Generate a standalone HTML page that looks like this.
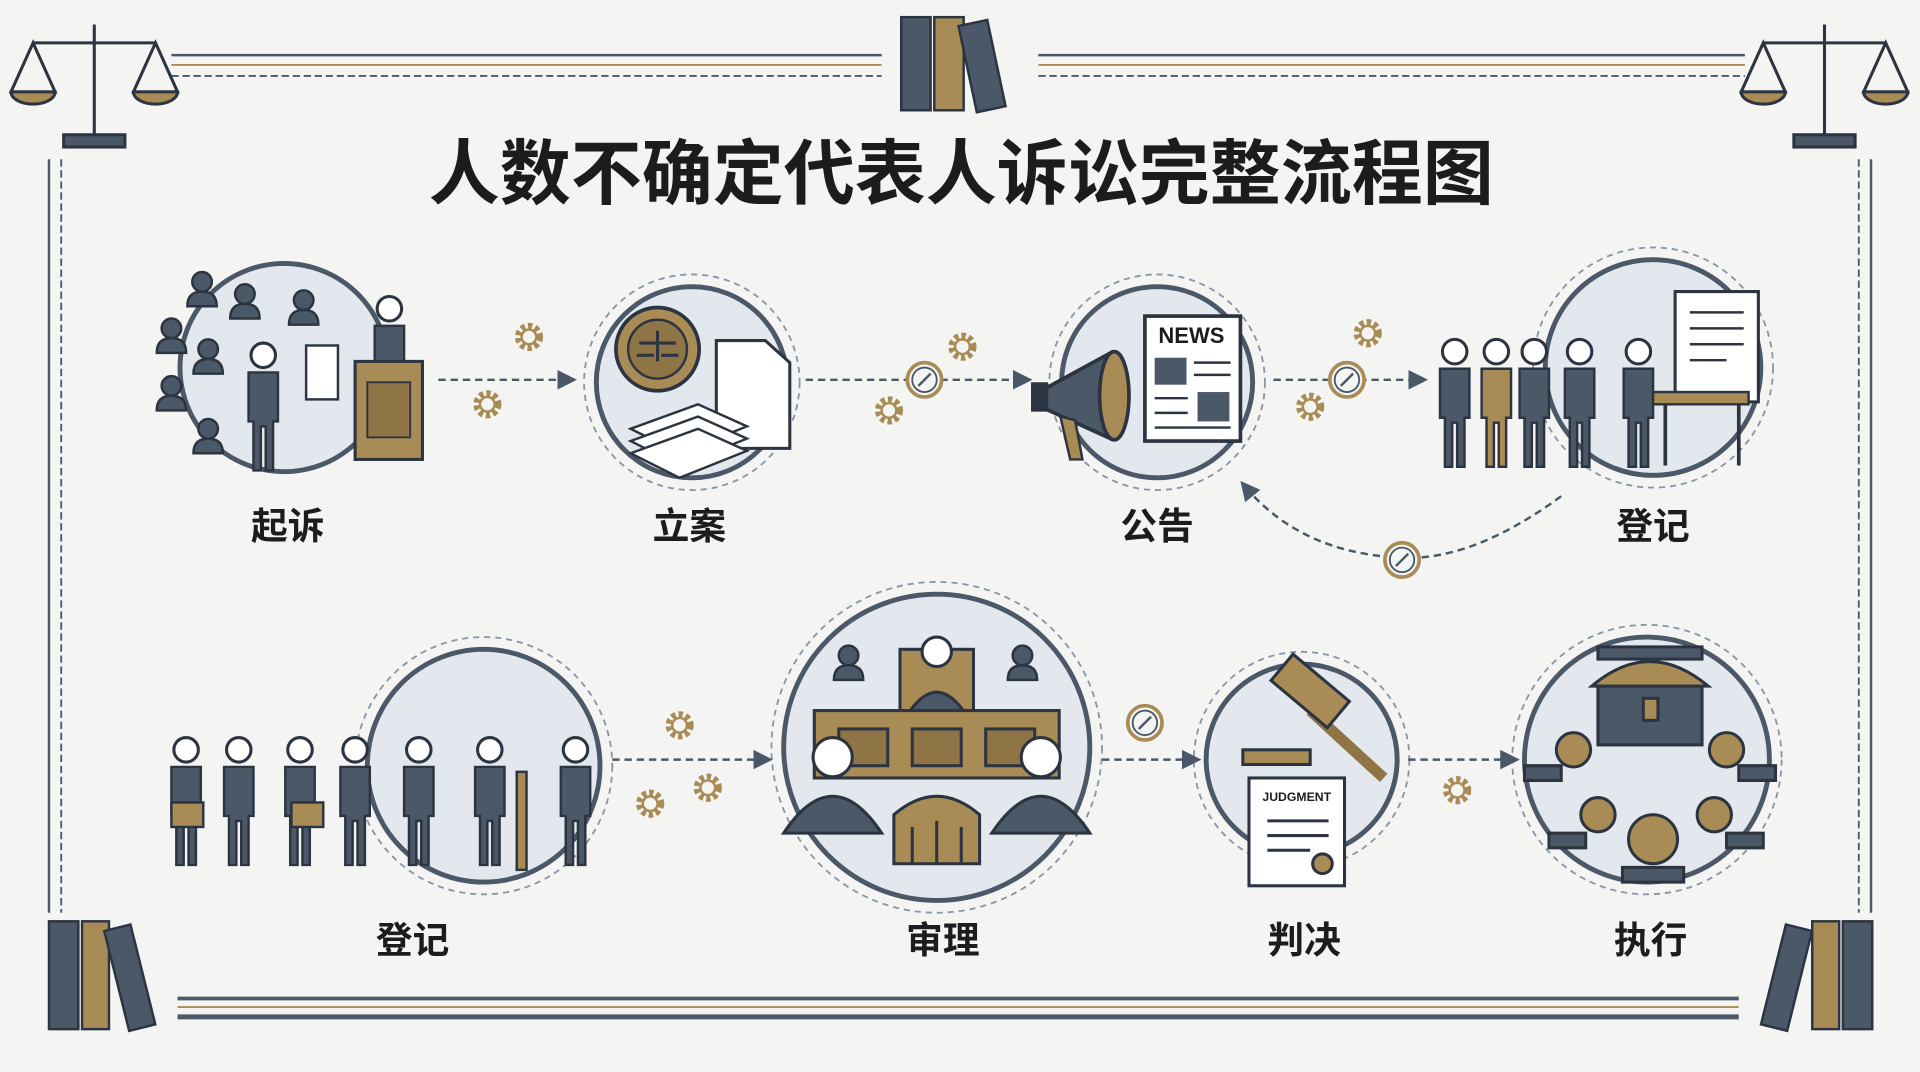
<!DOCTYPE html>
<html><head><meta charset="utf-8"><style>
html,body{margin:0;padding:0;background:#f4f4f3;}
svg{display:block;}
text{font-family:"Liberation Sans","Noto Sans CJK SC",sans-serif;font-weight:700;fill:#1c1c1c;}
</style></head><body>
<svg width="1920" height="1072" viewBox="0 0 1568 875" preserveAspectRatio="none" xmlns="http://www.w3.org/2000/svg">
<defs>
<marker id="ar" viewBox="0 0 10 10" refX="8" refY="5" markerWidth="8" markerHeight="8" orient="auto"><path d="M0,0 L10,5 L0,10z" fill="#4a5868"/></marker>
<g id="gear"><circle r="9" fill="none" stroke="#a98c55" stroke-width="5" stroke-dasharray="3.5 2.4"/><circle r="6" fill="#f4f4f3" stroke="#a98c55" stroke-width="2"/></g>
<g id="comp"><circle r="14" fill="#f4f4f3" stroke="#a98c55" stroke-width="3"/><circle r="10" fill="none" stroke="#4a5868" stroke-width="1.5"/><path d="M-5,5 L5,-5" stroke="#4a5868" stroke-width="2"/></g>
<g id="p"><circle cx="0" cy="-48" r="10" fill="#fff" stroke="#2b3440" stroke-width="2.5"/><path d="M-12,-34 h24 v40 h-4 v40 h-6 v-36 h-4 v36 h-6 v-40 h-4z" fill="#4a5868" stroke="#2b3440" stroke-width="2"/></g>
<g id="pg"><circle cx="0" cy="-48" r="10" fill="#fff" stroke="#2b3440" stroke-width="2.5"/><path d="M-12,-34 h24 v40 h-4 v40 h-6 v-36 h-4 v36 h-6 v-40 h-4z" fill="#a98c55" stroke="#2b3440" stroke-width="2"/></g>
<g id="sm"><circle cx="0" cy="-10" r="8" fill="#4a5868" stroke="#2b3440" stroke-width="2"/><path d="M-12,10 q0,-12 12,-12 q12,0 12,12z" fill="#4a5868" stroke="#2b3440" stroke-width="2"/></g>
</defs>
<rect width="1568" height="875" fill="#f4f4f3"/>
<!-- borders -->
<g stroke="#4a5868" fill="none">
<line x1="140" y1="45" x2="720" y2="45" stroke-width="2"/><line x1="140" y1="62" x2="720" y2="62" stroke-width="1.5" stroke-dasharray="6 3"/>
<line x1="848" y1="45" x2="1425" y2="45" stroke-width="2"/><line x1="848" y1="62" x2="1425" y2="62" stroke-width="1.5" stroke-dasharray="6 3"/>
<line x1="145" y1="815" x2="1420" y2="815" stroke-width="3"/><line x1="145" y1="830" x2="1420" y2="830" stroke-width="4"/>
<line x1="40" y1="130" x2="40" y2="745" stroke-width="2"/><line x1="50" y1="130" x2="50" y2="745" stroke-width="1.5" stroke-dasharray="6 3"/>
<line x1="1518" y1="130" x2="1518" y2="745" stroke-width="1.5" stroke-dasharray="6 3"/><line x1="1528" y1="130" x2="1528" y2="745" stroke-width="2"/>
</g>
<g stroke="#a98c55" stroke-width="1.5"><line x1="140" y1="53" x2="720" y2="53"/><line x1="848" y1="53" x2="1425" y2="53"/><line x1="145" y1="822" x2="1420" y2="822"/></g>
<!-- books -->
<g stroke="#2b3440" stroke-width="2">
<rect x="736" y="14" width="24" height="76" fill="#4a5868"/><rect x="763" y="14" width="24" height="76" fill="#a98c55"/><rect x="790" y="18" width="24" height="72" fill="#4a5868" transform="rotate(-12 802 54)"/>
<rect x="40" y="752" width="24" height="88" fill="#4a5868"/><rect x="67" y="752" width="22" height="88" fill="#a98c55"/><rect x="95" y="756" width="22" height="84" fill="#4a5868" transform="rotate(-14 106 798)"/>
<rect x="1505" y="752" width="24" height="88" fill="#4a5868"/><rect x="1480" y="752" width="22" height="88" fill="#a98c55"/><rect x="1448" y="756" width="22" height="84" fill="#4a5868" transform="rotate(14 1459 798)"/>
</g>
<!-- scales -->
<g fill="none" stroke="#2b3440" stroke-width="2.5">
<g transform="translate(77,70)"><line x1="0" y1="-50" x2="0" y2="40"/><line x1="-50" y1="-35" x2="50" y2="-35"/><path d="M-50,-35 l-18,40 h36z M50,-35 l-18,40 h36z"/><path d="M-68,5 a18,10 0 0 0 36,0z M32,5 a18,10 0 0 0 36,0z" fill="#a98c55"/><rect x="-25" y="40" width="50" height="10" fill="#4a5868"/></g>
<g transform="translate(1490,70)"><line x1="0" y1="-50" x2="0" y2="40"/><line x1="-50" y1="-35" x2="50" y2="-35"/><path d="M-50,-35 l-18,40 h36z M50,-35 l-18,40 h36z"/><path d="M-68,5 a18,10 0 0 0 36,0z M32,5 a18,10 0 0 0 36,0z" fill="#a98c55"/><rect x="-25" y="40" width="50" height="10" fill="#4a5868"/></g>
</g>
<text x="785" y="162" font-size="58" text-anchor="middle">人数不确定代表人诉讼完整流程图</text>
<!-- circles -->
<g fill="#e3e8ee" stroke="#4a5868" stroke-width="4">
<circle cx="232" cy="300" r="85"/><circle cx="565" cy="312" r="78"/><circle cx="945" cy="312" r="78"/><circle cx="1350" cy="300" r="88"/>
<circle cx="395" cy="625" r="95"/><circle cx="765" cy="610" r="125"/><circle cx="1063" cy="620" r="78"/><circle cx="1345" cy="620" r="100"/>
</g>
<g fill="none" stroke="#8896a6" stroke-width="1.5" stroke-dasharray="5 4">
<circle cx="565" cy="312" r="88"/><circle cx="945" cy="312" r="88"/><circle cx="1350" cy="300" r="98"/><circle cx="395" cy="625" r="105"/><circle cx="765" cy="610" r="135"/><circle cx="1063" cy="620" r="88"/><circle cx="1345" cy="620" r="110"/>
</g>
<!-- 起诉 -->
<use href="#sm" x="165" y="240"/><use href="#sm" x="200" y="250"/><use href="#sm" x="248" y="255"/><use href="#sm" x="140" y="278"/><use href="#sm" x="170" y="295"/><use href="#sm" x="140" y="325"/><use href="#sm" x="170" y="360"/>
<use href="#p" x="215" y="338"/><rect x="250" y="282" width="26" height="44" fill="#fff" stroke="#2b3440" stroke-width="2"/>
<use href="#p" x="318" y="300"/><rect x="290" y="295" width="55" height="80" fill="#a98c55" stroke="#2b3440" stroke-width="2.5"/><rect x="300" y="312" width="35" height="45" fill="#8f7545" stroke="#2b3440" stroke-width="1.5"/>
<!-- 立案 -->
<circle cx="537" cy="285" r="34" fill="#a98c55" stroke="#2b3440" stroke-width="3"/><circle cx="537" cy="285" r="24" fill="#8f7545" stroke="#2b3440" stroke-width="2"/>
<path d="M522,280 h30 M537,270 v25 M520,290 h14 M540,290 h14" stroke="#2b3440" stroke-width="2.5"/>
<path d="M585,278 h40 l20,18 v70 h-60z" fill="#fff" stroke="#2b3440" stroke-width="2.5"/>
<g fill="#fff" stroke="#2b3440" stroke-width="2"><path d="M515,350 l55,-20 l40,18 l-55,22z"/><path d="M515,360 l55,-20 l40,18 l-55,22z"/><path d="M515,370 l55,-20 l40,18 l-55,22z"/></g>
<!-- 公告 -->
<rect x="935" y="258" width="78" height="102" fill="#fff" stroke="#2b3440" stroke-width="3"/>
<text x="973" y="280" font-size="18" text-anchor="middle" fill="#2b3440">NEWS</text>
<rect x="943" y="292" width="26" height="22" fill="#4a5868"/><rect x="978" y="320" width="26" height="24" fill="#4a5868"/>
<g stroke="#2b3440" stroke-width="2"><line x1="975" y1="296" x2="1005" y2="296"/><line x1="975" y1="306" x2="1005" y2="306"/><line x1="943" y1="325" x2="970" y2="325"/><line x1="943" y1="337" x2="970" y2="337"/><line x1="943" y1="349" x2="1005" y2="349"/></g>
<path d="M852,318 l55,-30 v70 l-55,-25z" fill="#4a5868" stroke="#2b3440" stroke-width="3"/><ellipse cx="910" cy="323" rx="12" ry="36" fill="#a98c55" stroke="#2b3440" stroke-width="3"/><rect x="842" y="312" width="14" height="24" fill="#2b3440"/><path d="M866,340 l8,35 h10 l-6,-32z" fill="#a98c55" stroke="#2b3440" stroke-width="2"/>
<!-- 登记 top -->
<use href="#p" x="1188" y="335"/><use href="#pg" x="1222" y="335"/><use href="#p" x="1253" y="335"/><use href="#p" x="1290" y="335"/><use href="#p" x="1338" y="335"/>
<path d="M1368,238 h68 v90 h-68z" fill="#fff" stroke="#2b3440" stroke-width="2.5"/>
<g stroke="#2b3440" stroke-width="2"><line x1="1380" y1="255" x2="1424" y2="255"/><line x1="1380" y1="268" x2="1424" y2="268"/><line x1="1380" y1="281" x2="1424" y2="281"/><line x1="1380" y1="294" x2="1410" y2="294"/></g>
<rect x="1350" y="320" width="78" height="10" fill="#a98c55" stroke="#2b3440" stroke-width="2"/><path d="M1360,330 v50 M1420,330 v50" stroke="#2b3440" stroke-width="3"/>
<!-- 登记 bottom -->
<use href="#p" x="152" y="660"/><use href="#p" x="195" y="660"/><use href="#p" x="245" y="660"/><use href="#p" x="290" y="660"/><use href="#p" x="342" y="660"/><use href="#p" x="400" y="660"/><use href="#p" x="470" y="660"/>
<g fill="#a98c55" stroke="#2b3440" stroke-width="2"><rect x="140" y="655" width="26" height="20"/><rect x="238" y="655" width="26" height="20"/><rect x="422" y="630" width="8" height="80"/></g>
<!-- 审理 -->
<g stroke="#2b3440" stroke-width="2.5">
<use href="#sm" x="693" y="545"/><use href="#sm" x="835" y="545"/>
<rect x="735" y="530" width="60" height="50" fill="#a98c55"/><circle cx="765" cy="532" r="12" fill="#fff"/><path d="M740,585 q25,-40 50,0z" fill="#4a5868"/>
<rect x="665" y="580" width="200" height="55" fill="#a98c55"/><rect x="685" y="595" width="40" height="30" fill="#8f7545"/><rect x="745" y="595" width="40" height="30" fill="#8f7545"/><rect x="805" y="595" width="40" height="30" fill="#8f7545"/>
<circle cx="680" cy="618" r="16" fill="#fff"/><path d="M640,680 q40,-60 80,0z" fill="#4a5868"/>
<circle cx="850" cy="618" r="16" fill="#fff"/><path d="M810,680 q40,-60 80,0z" fill="#4a5868"/>
<path d="M730,705 v-40 q35,-30 70,0 v40z" fill="#a98c55"/><line x1="745" y1="675" x2="745" y2="705"/><line x1="765" y1="670" x2="765" y2="705"/><line x1="785" y1="675" x2="785" y2="705"/>
</g>
<!-- 判决 -->
<g stroke="#2b3440" stroke-width="2.5">
<rect x="1020" y="635" width="78" height="88" fill="#fff"/>
<line x1="1035" y1="670" x2="1085" y2="670"/><line x1="1035" y1="682" x2="1085" y2="682"/><line x1="1035" y1="694" x2="1070" y2="694"/><circle cx="1080" cy="705" r="8" fill="#a98c55"/>
<path d="M1070,580 l60,55" stroke-width="9" stroke="#8f7545"/>
<rect x="1040" y="550" width="60" height="28" fill="#a98c55" transform="rotate(40 1070 564)"/>
<rect x="1015" y="612" width="55" height="12" fill="#a98c55"/>
</g>
<text x="1059" y="654" font-size="10" text-anchor="middle">JUDGMENT</text>
<!-- 执行 -->
<g stroke="#2b3440" stroke-width="2.5">
<rect x="1305" y="560" width="85" height="48" fill="#4a5868"/><path d="M1300,560 q47,-40 95,0z" fill="#a98c55"/><path d="M1305,528 h85 v10 h-85z" fill="#4a5868"/><rect x="1342" y="570" width="12" height="18" fill="#a98c55"/>
<g fill="#a98c55"><circle cx="1285" cy="612" r="14"/><circle cx="1410" cy="612" r="14"/><circle cx="1305" cy="665" r="14"/><circle cx="1400" cy="665" r="14"/><circle cx="1350" cy="685" r="20"/></g>
<g fill="#4a5868"><path d="M1245,625 h30 v12 h-30z"/><path d="M1420,625 h30 v12 h-30z"/><path d="M1265,680 h30 v12 h-30z"/><path d="M1410,680 h30 v12 h-30z"/><path d="M1325,708 h50 v12 h-50z"/></g>
</g>
<!-- arrows -->
<g fill="none" stroke="#4a5868" stroke-width="2" stroke-dasharray="6 4" marker-end="url(#ar)">
<line x1="358" y1="310" x2="468" y2="310"/><line x1="658" y1="310" x2="840" y2="310"/><line x1="1040" y1="310" x2="1163" y2="310"/>
<line x1="500" y1="620" x2="628" y2="620"/><line x1="900" y1="620" x2="978" y2="620"/><line x1="1150" y1="620" x2="1238" y2="620"/>
<path d="M1275,405 Q1200,460 1140,455 Q1060,450 1015,395"/>
</g>
<use href="#gear" x="432" y="275"/><use href="#gear" x="398" y="330"/><use href="#gear" x="786" y="283"/><use href="#gear" x="726" y="335"/><use href="#gear" x="1117" y="272"/><use href="#gear" x="1070" y="332"/>
<use href="#gear" x="555" y="592"/><use href="#gear" x="578" y="643"/><use href="#gear" x="531" y="656"/><use href="#gear" x="1190" y="645"/>
<use href="#comp" x="755" y="310"/><use href="#comp" x="1100" y="310"/><use href="#comp" x="1145" y="457"/><use href="#comp" x="935" y="590"/>
<!-- labels -->
<g font-size="30" text-anchor="middle">
<text x="235" y="440">起诉</text><text x="563" y="440">立案</text><text x="945" y="440">公告</text><text x="1350" y="440">登记</text>
<text x="337" y="778">登记</text><text x="770" y="778">审理</text><text x="1065" y="778">判决</text><text x="1348" y="778">执行</text>
</g>
</svg>
</body></html>
